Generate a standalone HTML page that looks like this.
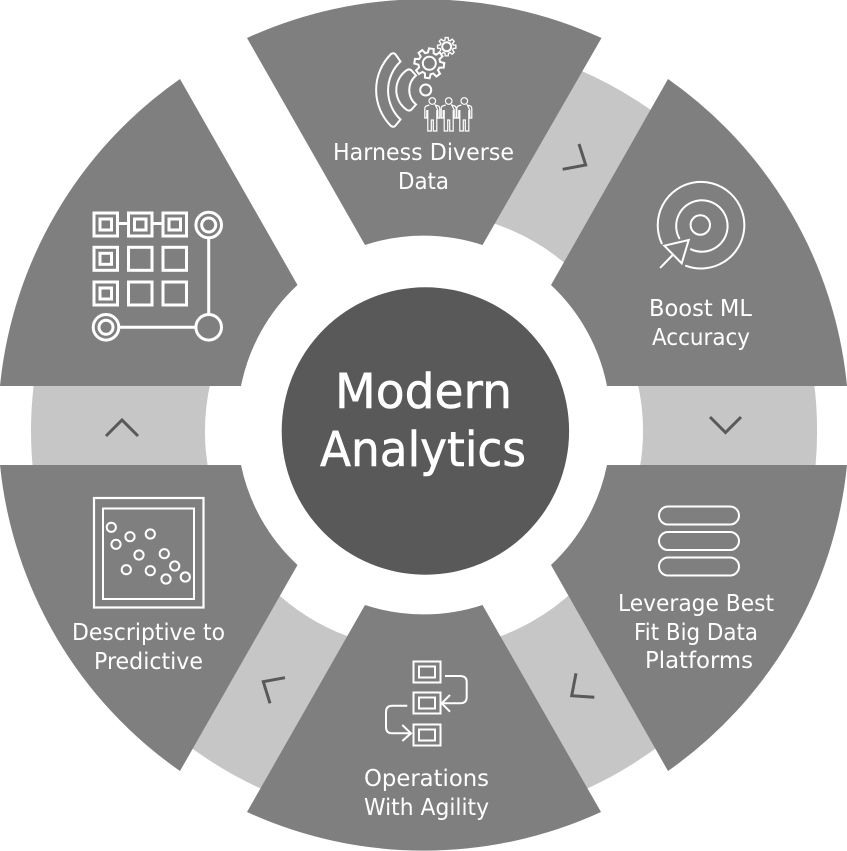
<!DOCTYPE html>
<html lang="en">
<head>
<meta charset="utf-8">
<title>Modern Analytics</title>
<style>
html,body{margin:0;padding:0;background:#fff;width:847px;height:851px;overflow:hidden}
svg{display:block}
text{font-family:"DejaVu Sans","Liberation Sans",sans-serif;fill:#fff}
.l{font-size:23px}
.t{font-size:48px;stroke:#fff;stroke-width:.6}
.i{fill:none;stroke:#fff;stroke-width:2}
.g{fill:none;stroke:#fff;stroke-width:3}
.c{fill:none;stroke:#595959;stroke-width:3}
</style>
</head>
<body>
<svg width="847" height="851" viewBox="0 0 847 851" xmlns="http://www.w3.org/2000/svg">
<rect width="847" height="851" fill="#fff"/>
<!-- ring -->
<path d="M424 125 A306 306 0 1 1 159 278" fill="none" stroke="#c6c6c6" stroke-width="174"/>
<!-- petals -->
<g fill="#7f7f7f">
<path d="M247 38 A425 425 0 0 1 601.5 38 L482.5 245 A188 188 0 0 0 365 245 Z"/>
<path d="M668 79 A425 425 0 0 1 847 386 H607 A188 188 0 0 0 551 285 Z"/>
<path d="M847 465 A425 425 0 0 1 668 771 L551 565 A188 188 0 0 0 607 465 Z"/>
<path d="M601 812 A425 425 0 0 1 247 812 L365 605 A188 188 0 0 0 482.5 605 Z"/>
<path d="M180 771 A425 425 0 0 1 0 465 H241 A188 188 0 0 0 297.5 565 Z"/>
<path d="M0 386 A425 425 0 0 1 180 79 L297.5 285 A188 188 0 0 0 241 386 Z"/>
</g>
<!-- centre -->
<circle cx="425.4" cy="431" r="143.7" fill="#595959"/>
<text class="t" x="335" y="408" textLength="177" lengthAdjust="spacingAndGlyphs">Modern</text>
<text class="t" x="320" y="466" textLength="206" lengthAdjust="spacingAndGlyphs">Analytics</text>
<!-- chevrons -->
<polyline class="c" points="562.7,169.3 585.7,165 579,144"/>
<polyline class="c" points="710,417 725.5,432.5 741,417"/>
<polyline class="c" points="576,673.3 571.7,695.7 594.3,697.3"/>
<polyline class="c" points="285,677.7 263.3,681.7 270,703.3"/>
<polyline class="c" points="106,436 122,420 138,436"/>
<!-- labels -->
<text class="l" x="333" y="160" textLength="181" lengthAdjust="spacingAndGlyphs">Harness Diverse</text>
<text class="l" x="398" y="189" textLength="51" lengthAdjust="spacingAndGlyphs">Data</text>
<text class="l" x="649" y="316" textLength="103" lengthAdjust="spacingAndGlyphs">Boost ML</text>
<text class="l" x="652" y="345" textLength="98" lengthAdjust="spacingAndGlyphs">Accuracy</text>
<text class="l" x="618" y="611" textLength="156" lengthAdjust="spacingAndGlyphs">Leverage Best</text>
<text class="l" x="634" y="640" textLength="124" lengthAdjust="spacingAndGlyphs">Fit Big Data</text>
<text class="l" x="645" y="668" textLength="108" lengthAdjust="spacingAndGlyphs">Platforms</text>
<text class="l" x="364" y="786" textLength="125" lengthAdjust="spacingAndGlyphs">Operations</text>
<text class="l" x="364" y="815" textLength="125" lengthAdjust="spacingAndGlyphs">With Agility</text>
<text class="l" x="72" y="640" textLength="153" lengthAdjust="spacingAndGlyphs">Descriptive to</text>
<text class="l" x="94" y="669" textLength="109" lengthAdjust="spacingAndGlyphs">Predictive</text>
<!-- icon: harness -->
<g class="i">
<path d="M391 54 A51 51 0 0 0 391 126 Q394 128 396 125 L400.5 119.5 A40 40 0 0 1 400.5 61.5 L396 55 Q394 52 391 54 Z"/>
<path d="M407 70 A24 24 0 0 0 407 110 Q410 111.5 412 109 L416 104.5 A19 19 0 0 1 416 75.5 L412 71 Q410 68.5 407 70 Z"/>
<circle cx="425.7" cy="90" r="5.5"/>
<polygon transform="translate(429.3,63.3) rotate(8)" points="14.8,2.35 10.6,2.85 9.5,5.5 12.1,8.8 8.8,12.1 5.5,9.5 2.85,10.6 2.35,14.8 -2.35,14.8 -2.85,10.6 -5.5,9.5 -8.8,12.1 -12.1,8.8 -9.5,5.5 -10.6,2.85 -14.8,2.35 -14.8,-2.35 -10.6,-2.85 -9.5,-5.5 -12.1,-8.8 -8.8,-12.1 -5.5,-9.5 -2.85,-10.6 -2.35,-14.8 2.35,-14.8 2.85,-10.6 5.5,-9.5 8.8,-12.1 12.1,-8.8 9.5,-5.5 10.6,-2.85 14.8,-2.35"/>
<circle cx="429.3" cy="63.3" r="6.5"/>
<polygon transform="translate(446.7,46.7) scale(.62)" stroke-width="2.2" points="14.8,2.35 10.6,2.85 9.5,5.5 12.1,8.8 8.8,12.1 5.5,9.5 2.85,10.6 2.35,14.8 -2.35,14.8 -2.85,10.6 -5.5,9.5 -8.8,12.1 -12.1,8.8 -9.5,5.5 -10.6,2.85 -14.8,2.35 -14.8,-2.35 -10.6,-2.85 -9.5,-5.5 -12.1,-8.8 -8.8,-12.1 -5.5,-9.5 -2.85,-10.6 -2.35,-14.8 2.35,-14.8 2.85,-10.6 5.5,-9.5 8.8,-12.1 12.1,-8.8 9.5,-5.5 10.6,-2.85 14.8,-2.35"/>
<circle cx="446.7" cy="46.7" r="4.5"/>
</g>
<g fill="none" stroke="#fff" stroke-width="1.2">
<g transform="translate(432.3,0)"><circle cx="0" cy="101" r="3.3"/><path d="M-3 105 L-6 106 Q-7.5 106.5 -7.5 109 V118 H-5.5 V110 M-4.5 110 V131 H-1 V120 H1 V131 H4.5 V110 M5.5 110 V118 H7.5 V109 Q7.5 106.5 6 106 L3 105 Z"/></g>
<g transform="translate(448.7,0)"><circle cx="0" cy="101" r="3.3"/><path d="M-3 105 L-6 106 Q-7.5 106.5 -7.5 109 V118 H-5.5 V110 M-4.5 110 V131 H-1 V120 H1 V131 H4.5 V110 M5.5 110 V118 H7.5 V109 Q7.5 106.5 6 106 L3 105 Z"/></g>
<g transform="translate(464.3,0)"><circle cx="0" cy="101" r="3.3"/><path d="M-3 105 L-6 106 Q-7.5 106.5 -7.5 109 V118 H-5.5 V110 M-4.5 110 V131 H-1 V120 H1 V131 H4.5 V110 M5.5 110 V118 H7.5 V109 Q7.5 106.5 6 106 L3 105 Z"/></g>
</g>
<!-- icon: target -->
<g class="i" stroke-linecap="round">
<circle cx="700.3" cy="225" r="9.7"/>
<path d="M679.3 238.3 A25.7 25.7 0 1 1 691 249.3"/>
<path d="M661.7 243.3 A43.3 43.3 0 1 1 686 265.8"/>
<polygon points="664.3,245.7 688.7,240 681.7,263.3"/>
<line x1="672.7" y1="255" x2="660.7" y2="267.3"/>
</g>
<!-- icon: pills -->
<g class="i">
<rect x="659" y="506.5" width="80" height="18" rx="9"/>
<rect x="659" y="532" width="80" height="18" rx="9"/>
<rect x="659" y="557.5" width="80" height="18" rx="9"/>
</g>
<!-- icon: flow -->
<g class="i">
<rect x="413.5" y="661.5" width="27" height="21"/>
<rect x="419" y="666.5" width="16" height="11"/>
<rect x="413.5" y="692.5" width="27" height="21"/>
<rect x="419" y="697.5" width="16" height="11"/>
<rect x="413.5" y="724.5" width="27" height="21"/>
<rect x="419" y="729.5" width="16" height="11"/>
<path d="M445 676 H460 Q466.7 676 466.7 682 V697 Q466.7 703.3 460 703.3 H442"/>
<polyline points="450,695 441.7,703.3 450,711.7"/>
<path d="M407.3 705.7 H392 Q386 705.7 386 712 V727 Q386 733.3 392 733.3 H411"/>
<polyline points="402.3,725 411,733.3 402.3,741"/>
</g>
<!-- icon: scatter -->
<g class="i">
<rect x="94" y="498" width="109.5" height="109.5" stroke-width="2.2"/>
<rect x="103" y="508.5" width="91" height="90.5"/>
<circle cx="111.3" cy="527.3" r="4.6"/>
<circle cx="130" cy="536.7" r="4.6"/>
<circle cx="150.3" cy="534" r="4.6"/>
<circle cx="116" cy="544.3" r="4.6"/>
<circle cx="139" cy="555" r="4.6"/>
<circle cx="164.3" cy="553.7" r="4.6"/>
<circle cx="174.7" cy="566" r="4.6"/>
<circle cx="126.3" cy="569.7" r="4.6"/>
<circle cx="150.3" cy="570.7" r="4.6"/>
<circle cx="166" cy="579" r="4.6"/>
<circle cx="185.3" cy="577" r="4.6"/>
</g>
<!-- icon: grid -->
<g class="g">
<rect x="94" y="213" width="23.5" height="23"/>
<rect x="128.5" y="213" width="23.5" height="23"/>
<rect x="163" y="213" width="23.5" height="23"/>
<rect x="94" y="247.3" width="23.5" height="23"/>
<rect x="128.5" y="247.3" width="23.5" height="23"/>
<rect x="163" y="247.3" width="23.5" height="23"/>
<rect x="94" y="282" width="23.5" height="23"/>
<rect x="128.5" y="282" width="23.5" height="23"/>
<rect x="163" y="282" width="23.5" height="23"/>
<rect x="100" y="219" width="11.5" height="11"/>
<rect x="134.5" y="219" width="11.5" height="11"/>
<rect x="169" y="219" width="11.5" height="11"/>
<rect x="100" y="253.3" width="11.5" height="11"/>
<rect x="100" y="288" width="11.5" height="11"/>
<line x1="118" y1="223.5" x2="128" y2="223.5"/>
<line x1="152.5" y1="223.5" x2="162.5" y2="223.5"/>
<circle cx="208.7" cy="225" r="12.8"/>
<circle cx="208.7" cy="225" r="7"/>
<circle cx="106" cy="327.3" r="12.8"/>
<circle cx="106" cy="327.3" r="7"/>
<circle cx="208.7" cy="327.3" r="12.8"/>
<line x1="208.7" y1="238" x2="208.7" y2="314.5"/>
<line x1="119" y1="327.3" x2="196" y2="327.3"/>
</g>
</svg>
</body>
</html>
